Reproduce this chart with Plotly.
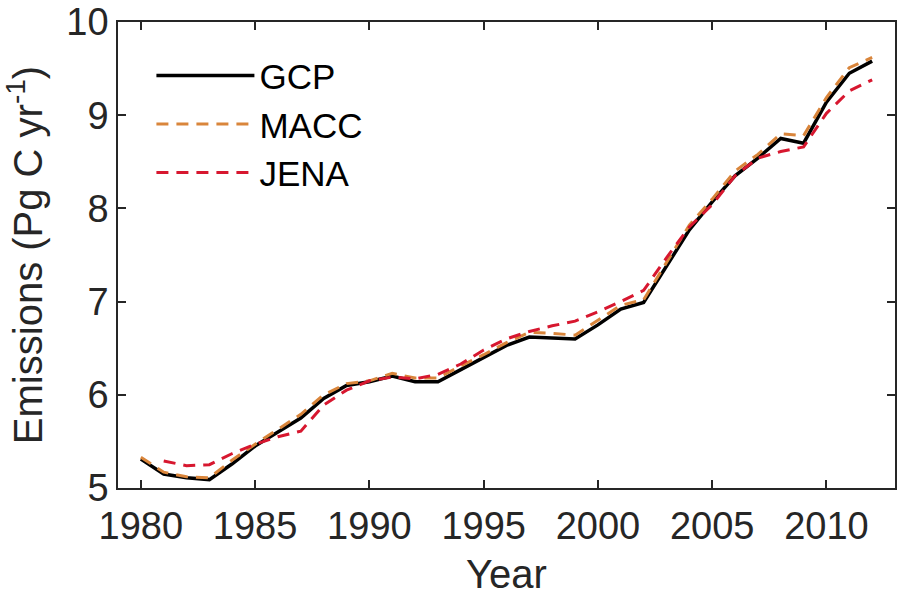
import plotly.graph_objects as go

years = list(range(1980, 2013))
gcp = [5.31, 5.15, 5.11, 5.09, 5.26, 5.45, 5.60, 5.75, 5.96, 6.10, 6.14, 6.20, 6.14, 6.14,
       6.27, 6.40, 6.53, 6.62, 6.61, 6.60, 6.75, 6.92, 6.99, 7.38, 7.77, 8.07, 8.35, 8.54,
       8.75, 8.70, 9.14, 9.45, 9.58]
macc = [5.33, 5.17, 5.12, 5.11, 5.30, 5.47, 5.63, 5.79, 6.00, 6.12, 6.15, 6.23, 6.18, 6.18,
        6.31, 6.43, 6.56, 6.67, 6.66, 6.64, 6.80, 6.96, 7.02, 7.42, 7.82, 8.10, 8.40, 8.58,
        8.80, 8.78, 9.19, 9.51, 9.62]
jena_years = list(range(1981, 2013))
jena = [5.29, 5.24, 5.25, 5.37, 5.47, 5.55, 5.61, 5.89, 6.05, 6.15, 6.19, 6.17, 6.22,
        6.33, 6.48, 6.60, 6.68, 6.74, 6.79, 6.89, 7.00, 7.12, 7.47, 7.80, 8.04, 8.35, 8.54,
        8.61, 8.66, 9.02, 9.26, 9.38]

FONT = "Liberation Sans, Arial, sans-serif"
AX = "#262626"

fig = go.Figure()
fig.add_trace(go.Scatter(x=years, y=gcp, mode="lines", name="GCP",
                         line=dict(color="black", width=3.5)))
fig.add_trace(go.Scatter(x=years, y=macc, mode="lines", name="MACC",
                         line=dict(color="#D9853B", width=3, dash="12px,8px")))
fig.add_trace(go.Scatter(x=jena_years, y=jena, mode="lines", name="JENA",
                         line=dict(color="#D7172F", width=3, dash="12px,8px")))

fig.update_layout(
    width=898, height=596,
    margin=dict(l=118, r=1, t=15, b=106),
    paper_bgcolor="white", plot_bgcolor="white",
    font=dict(family=FONT, size=38, color=AX),
    showlegend=True,
    legend=dict(x=0.043, y=0.948, xanchor="left", yanchor="top",
                bgcolor="rgba(0,0,0,0)", font=dict(size=35, color="black"),
                itemwidth=98, tracegroupgap=0),
    xaxis=dict(range=[1979, 2013], tickmode="array", tickvals=[1980, 1985, 1990, 1995, 2000, 2005, 2010],
               ticks="inside", ticklen=8, tickwidth=1.5, tickcolor=AX,
               showline=True, linecolor=AX, linewidth=1.5, mirror="ticks",
               showgrid=False, zeroline=False, ticklabelstandoff=4,
               ticklabeloverflow="allow",
               title=dict(text="Year", standoff=20, font=dict(size=40, color=AX)),
               tickfont=dict(size=38, color=AX)),
    yaxis=dict(range=[5, 10], tickmode="array", tickvals=[5, 6, 7, 8, 9, 10],
               ticks="inside", ticklen=8, tickwidth=1.5, tickcolor=AX,
               showline=True, linecolor=AX, linewidth=1.5, mirror="ticks",
               showgrid=False, zeroline=False, ticklabeloverflow="allow",
               title=dict(text="Emissions (Pg C yr<sup>-1</sup>)", standoff=32,
                          font=dict(size=40, color=AX)),
               tickfont=dict(size=38, color=AX)),
)

fig.write_html("out.html")
